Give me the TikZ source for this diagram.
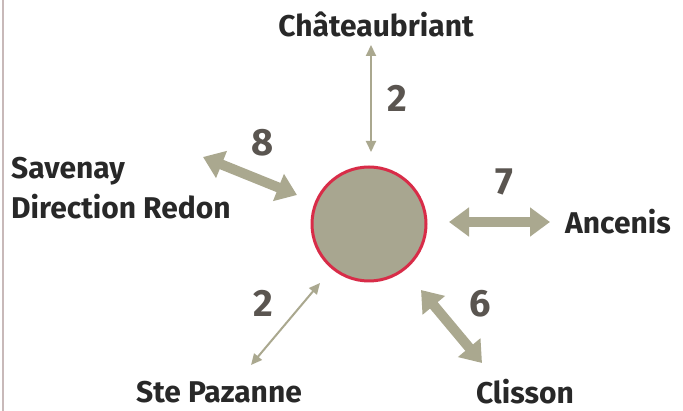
\documentclass[tikz,border=0pt]{standalone}
\usepackage{fontspec}
\setmainfont{Fira Sans}
\usetikzlibrary{arrows.meta}
\definecolor{arr}{RGB}{170,168,143}
\definecolor{disc}{RGB}{168,166,144}
\definecolor{ring}{RGB}{216,44,72}
\definecolor{txt}{RGB}{40,40,40}
\definecolor{num}{RGB}{90,85,80}
\definecolor{edge}{RGB}{200,185,185}
\tikzset{
  place/.style={font=\fontsize{30}{40}\selectfont\bfseries, text=txt, inner sep=0pt},
  count/.style={font=\fontsize{38}{40}\selectfont\bfseries, text=num, inner sep=0pt},
  thick arrow/.style={draw=arr, line width=10pt, {Triangle[width=28pt,length=20pt]}-{Triangle[width=28pt,length=20pt]}},
  thin arrow/.style={draw=arr, line width=2pt, {Triangle[width=10pt,length=11pt]}-{Triangle[width=10pt,length=11pt]}},
}
\begin{document}
\begin{tikzpicture}[x=1pt,y=-1pt]
\useasboundingbox (0,0) rectangle (683,411);
\fill[white] (0,0) rectangle (683,411);
\draw[edge, line width=2pt] (3,0) -- (3,411);
% hub
\node[circle, draw=ring, line width=3pt, fill=disc, minimum size=114pt, inner sep=0pt] (hub) at (369,224) {};
% places
\node[place] (chat) at (376,24) {Châteaubriant};
\node[place, anchor=north west, align=left] (sav) at (11,157) {Savenay\\Direction Redon};
\node[place, anchor=west] (anc) at (565,222) {Ancenis};
\node[place] (ste) at (219,392) {Ste Pazanne};
\node[place] (cli) at (525,392) {Clisson};
% counts
\node[count] (n1) at (397,98) {2};
\node[count] (n2) at (263,143) {8};
\node[count] (n3) at (504,182) {7};
\node[count] (n4) at (263,303) {2};
\node[count] (n5) at (480,304) {6};
% arrow ends
\coordinate (a1) at (371,45);  \coordinate (b1) at (371,152);
\coordinate (a2) at (203,157); \coordinate (b2) at (297,195);
\coordinate (a3) at (449,222); \coordinate (b3) at (550,222);
\coordinate (a4) at (251,365); \coordinate (b4) at (320,283);
\coordinate (a5) at (421,290); \coordinate (b5) at (482,363);
\draw[thin arrow] (a1) -- (b1);
\draw[thick arrow] (a2) -- (b2);
\draw[thick arrow] (a3) -- (b3);
\draw[thin arrow] (a4) -- (b4);
\draw[thick arrow] (a5) -- (b5);
\end{tikzpicture}
\end{document}
